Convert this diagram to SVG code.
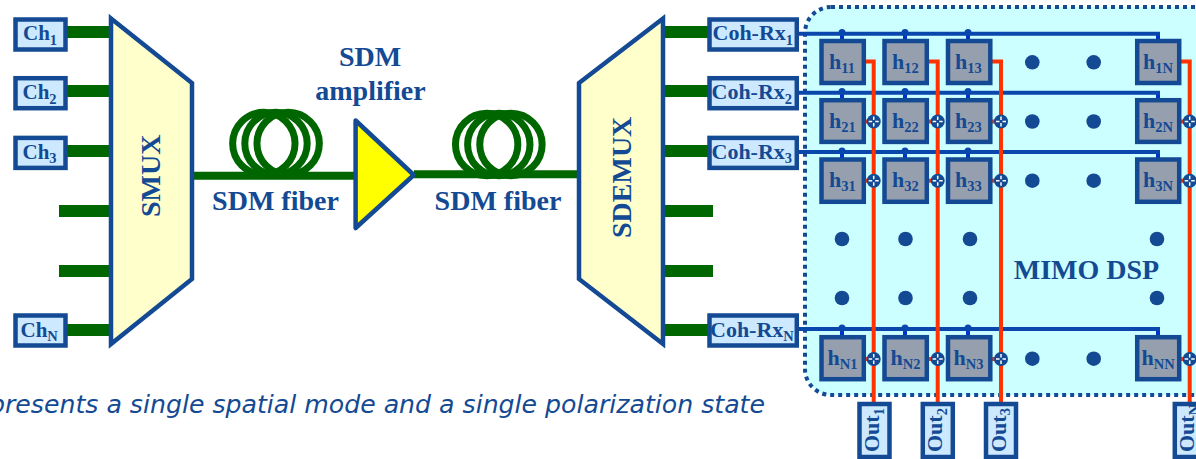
<svg xmlns="http://www.w3.org/2000/svg" width="1196" height="459" viewBox="0 0 1196 459">
<style>
text{font-family:"Liberation Serif","Times New Roman",serif;font-weight:bold;fill:#134a93}
.big{font-size:28px}
.lab{font-size:21px}
.rx{font-size:22px}
.hl{font-size:22px}
.out{font-size:22px}
.sub{font-size:14.5px}
.box{fill:#cce9ff;stroke:#134a93;stroke-width:4.5}
.mux{fill:#ffffcc;stroke:#134a93;stroke-width:4.5;stroke-linejoin:miter}
.g{stroke:#006600;stroke-width:12;fill:none}
.coil{stroke:#006600;stroke-width:7;fill:none}
.fib{stroke:#006600;stroke-width:8;fill:none}
.bus{stroke:#0a47ac;stroke-width:4;fill:none}
.stub{stroke:#0033cc;stroke-width:4;fill:none}
.red{stroke:#ff3300;stroke-width:4;fill:none}
.h{fill:#969fae;stroke:#134a93;stroke-width:4.5}
.dot{fill:#134a93}
.tap{fill:#0a47ac}
.cross{stroke:#ffffff;stroke-width:1.5;fill:none}
</style>
<defs>
<g id="add"><path class="red" d="M-10 0H0"/><circle class="dot" r="7"/><path class="cross" d="M-5 0H-1.5M1.500 0H5M0-5V-1.500M0 1.500V5"/></g>
<g id="coil"><circle class="coil" cx="-12.150" r="31.200"/><circle class="coil" r="31.200"/><circle class="coil" cx="12.150" r="31.200"/></g>
</defs>

<g id="mimo-panel"><rect x="805" y="7" width="425" height="388" rx="26" fill="#ccffff" stroke="#134a93" stroke-width="4" stroke-dasharray="4 4"/></g>

<g id="connectors">
<path class="g" d="M67 32H110M67 91H110M67 151H110M59 211H110M59 271H110M67 330H110"/>
<path class="g" d="M664 32H708M664 91H708M664 151H708M664 211H713M664 271H713M664 330H708"/>
<path class="fib" d="M193 175.7H356M414 174.3H578"/>
<path class="stub" d="M842 33V40M905 33V40M968 33V40M1158 33V40M842 92V99M905 92V99M968 92V99M1158 92V99M842 152V158M905 152V158M968 152V158M1158 152V158M842 329V336M905 329V336M968 329V336M1158 329V336"/>
<path class="bus" d="M797 33.7H1160M797 92.7H1160M797 152H1160M797 329H1160"/>
<g class="tap"><circle cx="842" cy="32.500" r="3.500"/><circle cx="905" cy="32.500" r="3.500"/><circle cx="968" cy="32.500" r="3.500"/><circle cx="842" cy="91.500" r="3.500"/><circle cx="905" cy="91.500" r="3.500"/><circle cx="968" cy="91.500" r="3.500"/><circle cx="842" cy="151" r="3.500"/><circle cx="905" cy="151" r="3.500"/><circle cx="968" cy="151" r="3.500"/><circle cx="842" cy="328" r="3.500"/><circle cx="905" cy="328" r="3.500"/><circle cx="968" cy="328" r="3.500"/></g>
<path class="red" d="M866 61.5H873.7V402M929 61.5H937.7V402M992 61.5H1001V402M1181 61.5H1189.7V402"/>
<use href="#add" x="873.7" y="121.500"/><use href="#add" x="937.7" y="121.500"/><use href="#add" x="1001" y="121.500"/><use href="#add" x="1189.7" y="121.500"/>
<use href="#add" x="873.7" y="180.700"/><use href="#add" x="937.7" y="180.700"/><use href="#add" x="1001" y="180.700"/><use href="#add" x="1189.7" y="180.700"/>
<use href="#add" x="873.7" y="359"/><use href="#add" x="937.7" y="359"/><use href="#add" x="1001" y="359"/><use href="#add" x="1189.7" y="359"/>
</g>

<g id="ch1"><rect class="box" x="15.5" y="19.500" width="50" height="30"/><text class="lab" x="23" y="40">Ch<tspan class="sub" dy="4.500">1</tspan></text></g>
<g id="ch2"><rect class="box" x="15.5" y="78.200" width="50" height="30"/><text class="lab" x="22.500" y="99">Ch<tspan class="sub" dy="4.500">2</tspan></text></g>
<g id="ch3"><rect class="box" x="15.5" y="137.900" width="50" height="30"/><text class="lab" x="22.500" y="158.500">Ch<tspan class="sub" dy="4.500">3</tspan></text></g>
<g id="chN"><rect class="box" x="15.5" y="315.500" width="50" height="30"/><text class="lab" x="20.500" y="336.500">Ch<tspan class="sub" dy="4.500">N</tspan></text></g>

<g id="smux"><polygon class="mux" points="111,18.500 192,83 192,279 111,344"/><text class="big" transform="translate(160 217) rotate(-90)">SMUX</text></g>
<g id="sdemux"><polygon class="mux" points="579,83 663,18.500 663,344 579,279"/><text class="big" transform="translate(630.500 238) rotate(-90)">SDEMUX</text></g>

<g id="fiber1"><use href="#coil" x="276" y="143.500"/><text class="big" x="275.500" y="210" text-anchor="middle">SDM fiber</text></g>
<g id="fiber2"><use href="#coil" x="498.800" y="144.500"/><text class="big" x="498" y="210" text-anchor="middle">SDM fiber</text></g>
<g id="amplifier"><polygon class="mux" points="355.600,120.500 413.800,175 355.600,228" style="fill:#ffff00;stroke-linejoin:round"/><text class="big" x="370" y="66" text-anchor="middle">SDM</text><text class="big" x="370.500" y="100" text-anchor="middle">amplifier</text></g>

<g id="rx1"><rect class="box" x="709.500" y="19.500" width="87.300" height="30"/><text class="rx" x="712.500" y="40">Coh-Rx<tspan class="sub" dy="4.500">1</tspan></text></g>
<g id="rx2"><rect class="box" x="709.500" y="78.200" width="87.300" height="30"/><text class="rx" x="711.500" y="99">Coh-Rx<tspan class="sub" dy="4.500">2</tspan></text></g>
<g id="rx3"><rect class="box" x="709.500" y="137.900" width="87.300" height="30"/><text class="rx" x="711.500" y="158.500">Coh-Rx<tspan class="sub" dy="4.500">3</tspan></text></g>
<g id="rxN"><rect class="box" x="709.500" y="315.500" width="87.300" height="30"/><text class="rx" x="710" y="336.500">Coh-Rx<tspan class="sub" dy="4.500">N</tspan></text></g>

<g id="h11"><rect class="h" x="821.500" y="41" width="42.300" height="42"/><text class="hl" x="829" y="69">h<tspan class="sub" dy="4">11</tspan></text></g>
<g id="h12"><rect class="h" x="884.500" y="41" width="42.300" height="42"/><text class="hl" x="892" y="69">h<tspan class="sub" dy="4">12</tspan></text></g>
<g id="h13"><rect class="h" x="948" y="41" width="42.300" height="42"/><text class="hl" x="955" y="69">h<tspan class="sub" dy="4">13</tspan></text></g>
<g id="h1N"><rect class="h" x="1137.200" y="41" width="42" height="42"/><text class="hl" x="1143" y="69">h<tspan class="sub" dy="4">1N</tspan></text></g>
<g id="h21"><rect class="h" x="821.500" y="100.200" width="42.300" height="41.700"/><text class="hl" x="829" y="128">h<tspan class="sub" dy="4">21</tspan></text></g>
<g id="h22"><rect class="h" x="884.500" y="100.200" width="42.300" height="41.700"/><text class="hl" x="892" y="128">h<tspan class="sub" dy="4">22</tspan></text></g>
<g id="h23"><rect class="h" x="948" y="100.200" width="42.300" height="41.700"/><text class="hl" x="955" y="128">h<tspan class="sub" dy="4">23</tspan></text></g>
<g id="h2N"><rect class="h" x="1137.200" y="100.200" width="42" height="41.700"/><text class="hl" x="1143" y="128">h<tspan class="sub" dy="4">2N</tspan></text></g>
<g id="h31"><rect class="h" x="821.500" y="159.500" width="42.300" height="42.300"/><text class="hl" x="829" y="187">h<tspan class="sub" dy="4">31</tspan></text></g>
<g id="h32"><rect class="h" x="884.500" y="159.500" width="42.300" height="42.300"/><text class="hl" x="892" y="187">h<tspan class="sub" dy="4">32</tspan></text></g>
<g id="h33"><rect class="h" x="948" y="159.500" width="42.300" height="42.300"/><text class="hl" x="955" y="187">h<tspan class="sub" dy="4">33</tspan></text></g>
<g id="h3N"><rect class="h" x="1137.200" y="159.500" width="42" height="42.300"/><text class="hl" x="1143" y="187">h<tspan class="sub" dy="4">3N</tspan></text></g>
<g id="hN1"><rect class="h" x="821.500" y="337.200" width="42.300" height="42"/><text class="hl" x="827.500" y="365">h<tspan class="sub" dy="4">N1</tspan></text></g>
<g id="hN2"><rect class="h" x="884.500" y="337.200" width="42.300" height="42"/><text class="hl" x="890.500" y="365">h<tspan class="sub" dy="4">N2</tspan></text></g>
<g id="hN3"><rect class="h" x="948" y="337.200" width="42.300" height="42"/><text class="hl" x="953.500" y="365">h<tspan class="sub" dy="4">N3</tspan></text></g>
<g id="hNN"><rect class="h" x="1137.200" y="337.200" width="42" height="42"/><text class="hl" x="1141.500" y="365">h<tspan class="sub" dy="4">NN</tspan></text></g>

<g id="dots" class="dot">
<circle cx="1032.300" cy="62.300" r="7.300"/><circle cx="1093.700" cy="62.300" r="7.300"/>
<circle cx="1032.300" cy="121.500" r="7.300"/><circle cx="1093.700" cy="121.500" r="7.300"/>
<circle cx="1032.300" cy="180.700" r="7.300"/><circle cx="1093.700" cy="180.700" r="7.300"/>
<circle cx="842" cy="239" r="7.300"/><circle cx="905.500" cy="239" r="7.300"/><circle cx="970" cy="239" r="7.300"/><circle cx="1157" cy="239" r="7.300"/>
<circle cx="842" cy="298" r="7.300"/><circle cx="905.500" cy="298" r="7.300"/><circle cx="970" cy="298" r="7.300"/><circle cx="1157" cy="298" r="7.300"/>
<circle cx="1032.300" cy="358.700" r="7.300"/><circle cx="1093.700" cy="358.700" r="7.300"/>
</g>
<g id="mimo-label"><text class="big" x="1086.500" y="279" text-anchor="middle">MIMO DSP</text></g>

<g id="out1"><rect class="box" x="859.500" y="404" width="30" height="53"/><text class="out" transform="translate(879 452) rotate(-90)">Out<tspan class="sub" dy="4.500">1</tspan></text></g>
<g id="out2"><rect class="box" x="922.800" y="404" width="30" height="53"/><text class="out" transform="translate(942.300 452) rotate(-90)">Out<tspan class="sub" dy="4.500">2</tspan></text></g>
<g id="out3"><rect class="box" x="986" y="404" width="30" height="53"/><text class="out" transform="translate(1005.500 452) rotate(-90)">Out<tspan class="sub" dy="4.500">3</tspan></text></g>
<g id="outN"><rect class="box" x="1174.800" y="404" width="30" height="53"/><text class="out" transform="translate(1194 452) rotate(-90)">Out<tspan class="sub" dy="4.500">N</tspan></text></g>

<g id="caption"><text x="765" y="413" text-anchor="end" style="font-family:'DejaVu Sans',Verdana,sans-serif;font-style:italic;font-weight:normal;font-size:25.200px">presents a single spatial mode and a single polarization state</text></g>
</svg>
